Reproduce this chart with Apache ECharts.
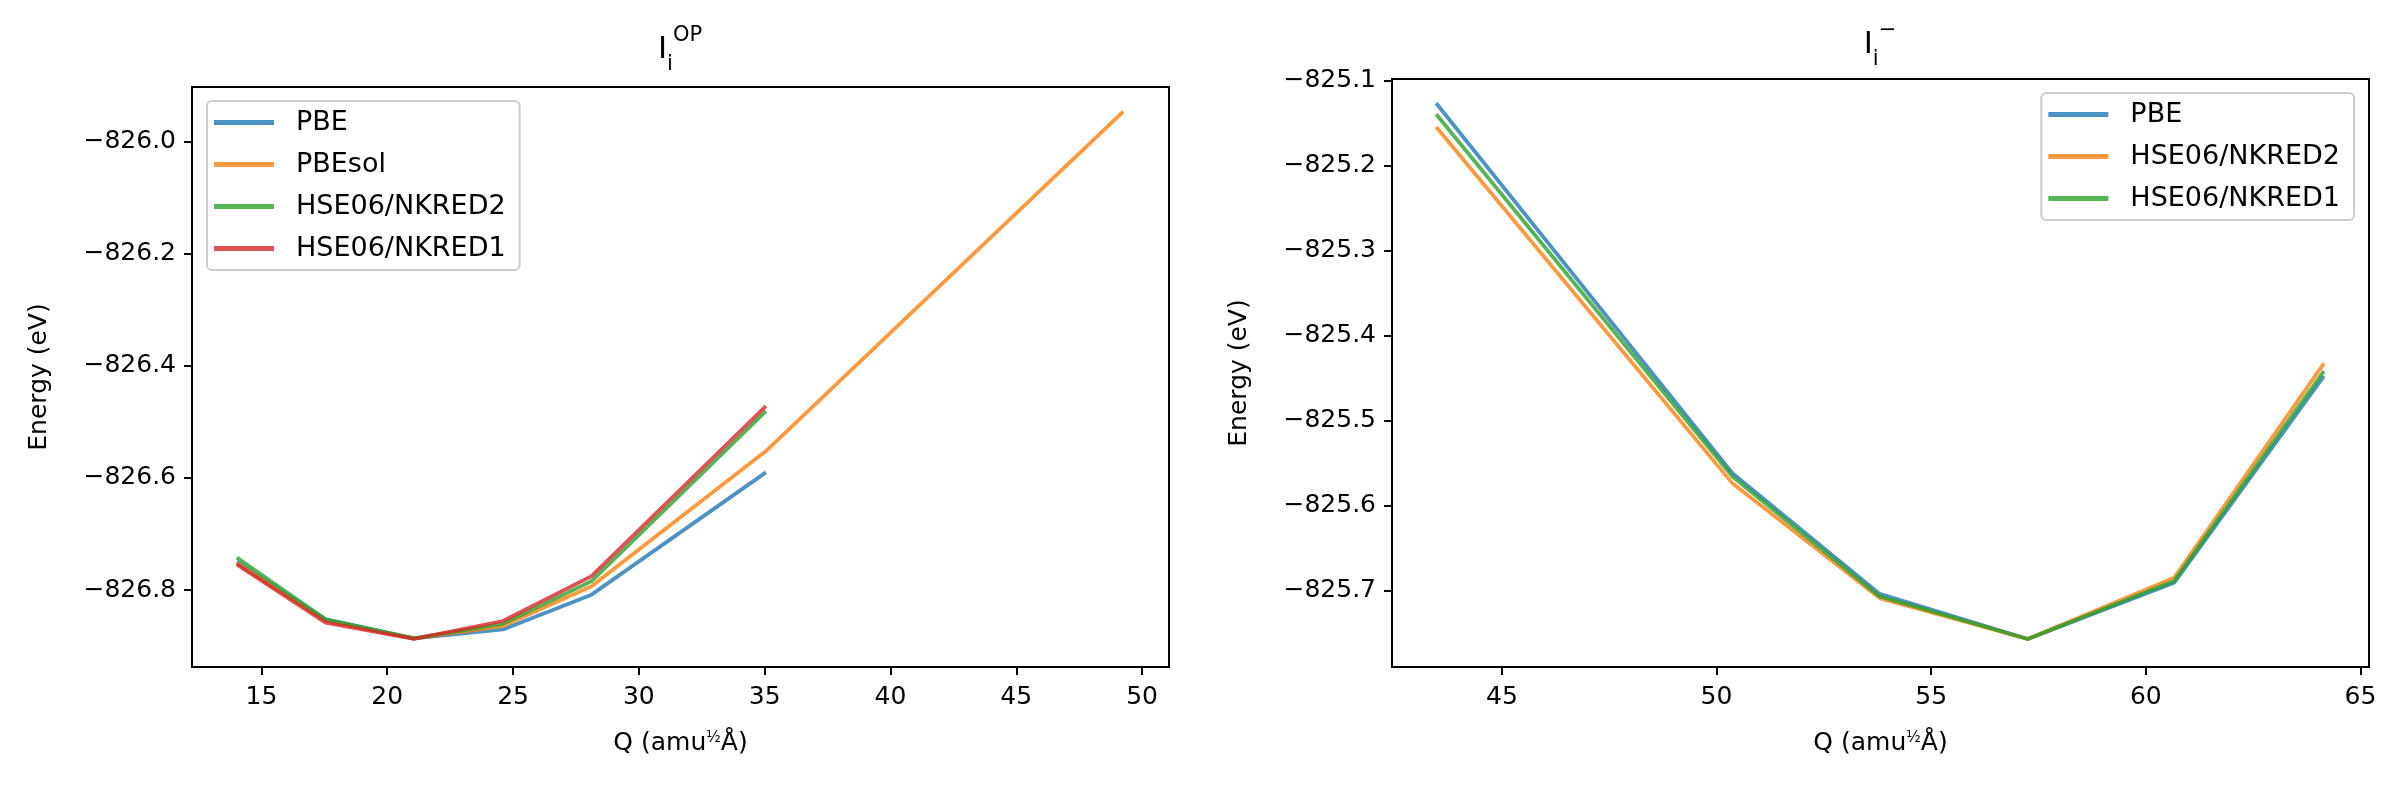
<!DOCTYPE html>
<html>
<head>
<meta charset="utf-8">
<title>Energy vs Q</title>
<script src="https://cdn.jsdelivr.net/npm/echarts@6/dist/echarts.min.js"></script>
<style>
    html, body { margin: 0; padding: 0; background: #fff; }
    #wrap { position: relative; width: 2399px; height: 799px; }
    #left { position: absolute; left: 0; top: 0; width: 1200px; height: 799px; }
    #right { position: absolute; left: 1200px; top: 0; width: 1199px; height: 799px; }
</style>
</head>
<body>
<div id="wrap">
    <div id="left"></div>
    <div id="right"></div>
</div>
<script>
// left panel: I_i^OP
var qOP = [14.02, 17.55, 21.06, 24.6, 28.12, 35.05];
var qOPsol = [14.02, 17.55, 21.06, 24.6, 28.12, 35.05, 49.25];
var opPBE = [-826.750, -826.852, -826.886, -826.870, -826.808, -826.590];
var opPBEsol = [-826.752, -826.855, -826.886, -826.864, -826.793, -826.552, -825.947];
var opHSE2 = [-826.742, -826.852, -826.886, -826.860, -826.784, -826.481];
var opHSE1 = [-826.754, -826.858, -826.887, -826.855, -826.775, -826.472];
var opXTicks = [15, 20, 25, 30, 35, 40, 45, 50];
var opYTicks = [-826.8, -826.6, -826.4, -826.2, -826.0];

// right panel: I_i^-
var qMinus = [43.47, 50.37, 53.8, 57.25, 60.66, 64.15];
var mPBE = [-825.127, -825.562, -825.704, -825.757, -825.691, -825.448];
var mHSE2 = [-825.155, -825.574, -825.709, -825.757, -825.685, -825.433];
var mHSE1 = [-825.140, -825.566, -825.707, -825.757, -825.689, -825.442];
var mXTicks = [45, 50, 55, 60, 65];
var mYTicks = [-825.7, -825.6, -825.5, -825.4, -825.3, -825.2, -825.1];

var FONT = 'DejaVu Sans';
var C_BLUE = '#1f77b4', C_ORANGE = '#ff7f0e', C_GREEN = '#2ca02c', C_RED = '#d62728';

function pairs(xs, ys) {
    return xs.map(function (x, i) { return [x, ys[i]]; });
}

function yFmt(v) {
    return (v < 0 ? '\u2212' : '') + Math.abs(v).toFixed(1);
}

function lineSeries(name, color, xs, ys) {
    return {
        name: name,
        type: 'line',
        data: pairs(xs, ys),
        showSymbol: false,
        color: color,
        lineStyle: { width: 3.75, color: color, opacity: 0.8 },
        itemStyle: { color: color, opacity: 0.8 },
        emphasis: { disabled: true }
    };
}

function makeOption(cfg) {
    return {
        animation: false,
        backgroundColor: '#fff',
        textStyle: { fontFamily: FONT, color: '#000' },
        graphic: [{
            type: 'text',
            x: 680,
            y: cfg.titleY,
            style: {
                text: cfg.title,
                align: 'center',
                verticalAlign: 'middle',
                rich: {
                    b: { fontFamily: FONT, fontSize: 31, lineHeight: 50, fill: '#000' },
                    s: { fontFamily: FONT, fontSize: 21, lineHeight: 22, verticalAlign: 'bottom', fill: '#000' },
                    p: { fontFamily: FONT, fontSize: 21, lineHeight: 22, verticalAlign: 'top', fill: '#000' }
                }
            }
        }],
        legend: Object.assign({
            orient: 'vertical',
            top: cfg.legendTop,
            icon: 'rect',
            itemWidth: 60,
            itemHeight: 5,
            itemGap: 15,
            padding: [8, 14, 8, 7],
            borderColor: '#cccccc',
            borderWidth: 2,
            borderRadius: 5,
            backgroundColor: 'rgba(255,255,255,0.8)',
            itemStyle: { opacity: 0.8 },
            textStyle: { fontFamily: FONT, fontSize: 27, color: '#000', padding: [0, 0, 0, 17] },
            data: cfg.series.map(function (s) { return s.name; })
        }, cfg.legendPos),
        grid: {
            left: 192, right: cfg.gridRight, top: cfg.gridTop, bottom: 132,
            show: true, borderColor: '#000', borderWidth: 2, backgroundColor: 'transparent'
        },
        xAxis: {
            type: 'value',
            min: cfg.xMin,
            max: cfg.xMax,
            name: '{t|Q (amu}{f|\u00bd}{t|\u00c5)}',
            nameLocation: 'middle',
            nameGap: 64,
            nameTextStyle: {
                rich: {
                    t: { fontFamily: FONT, fontSize: 25, color: '#000' },
                    f: { fontFamily: FONT, fontSize: 15, color: '#000', verticalAlign: 'top' }
                }
            },
            axisLine: { show: true, onZero: false, lineStyle: { color: '#000', width: 2 } },
            axisTick: { show: true, length: 8, lineStyle: { color: '#000', width: 2 }, customValues: cfg.xTicks },
            axisLabel: {
                fontFamily: FONT, fontSize: 25, color: '#000', margin: 18,
                customValues: cfg.xTicks,
                formatter: function (v) { return String(v); }
            },
            splitLine: { show: false }
        },
        yAxis: {
            type: 'value',
            min: cfg.yMin,
            max: cfg.yMax,
            name: 'Energy (eV)',
            nameLocation: 'middle',
            nameGap: 140,
            nameTextStyle: { fontFamily: FONT, fontSize: 25, color: '#000' },
            axisLine: { show: true, onZero: false, lineStyle: { color: '#000', width: 2 } },
            axisTick: { show: true, length: 8, lineStyle: { color: '#000', width: 2 }, customValues: cfg.yTicks },
            axisLabel: {
                fontFamily: FONT, fontSize: 25, color: '#000', margin: 16,
                customValues: cfg.yTicks,
                formatter: yFmt
            },
            splitLine: { show: false }
        },
        series: cfg.series
    };
}

var leftChart = echarts.init(document.getElementById('left'));
leftChart.setOption(makeOption({
    title: '{b|I}{s|i}{p|OP}',
    titleY: 50,
    gridTop: 87,
    gridRight: 31,
    legendTop: 101,
    legendPos: { left: 207 },
    xMin: 12.24, xMax: 51.07,
    yMin: -826.937, yMax: -825.903,
    xTicks: opXTicks,
    yTicks: opYTicks,
    series: [
        lineSeries('PBE', C_BLUE, qOP, opPBE),
        lineSeries('PBEsol', C_ORANGE, qOPsol, opPBEsol),
        lineSeries('HSE06/NKRED2', C_GREEN, qOP, opHSE2),
        lineSeries('HSE06/NKRED1', C_RED, qOP, opHSE1)
    ]
}));

var rightChart = echarts.init(document.getElementById('right'));
rightChart.setOption(makeOption({
    title: '{b|I}{s|i}{p|\u2212}',
    titleY: 45,
    gridTop: 79,
    gridRight: 30,
    legendTop: 93,
    legendPos: { right: 45 },
    xMin: 42.44, xMax: 65.2,
    yMin: -825.79, yMax: -825.0985,
    xTicks: mXTicks,
    yTicks: mYTicks,
    series: [
        lineSeries('PBE', C_BLUE, qMinus, mPBE),
        lineSeries('HSE06/NKRED2', C_ORANGE, qMinus, mHSE2),
        lineSeries('HSE06/NKRED1', C_GREEN, qMinus, mHSE1)
    ]
}));
</script>
</body>
</html>
